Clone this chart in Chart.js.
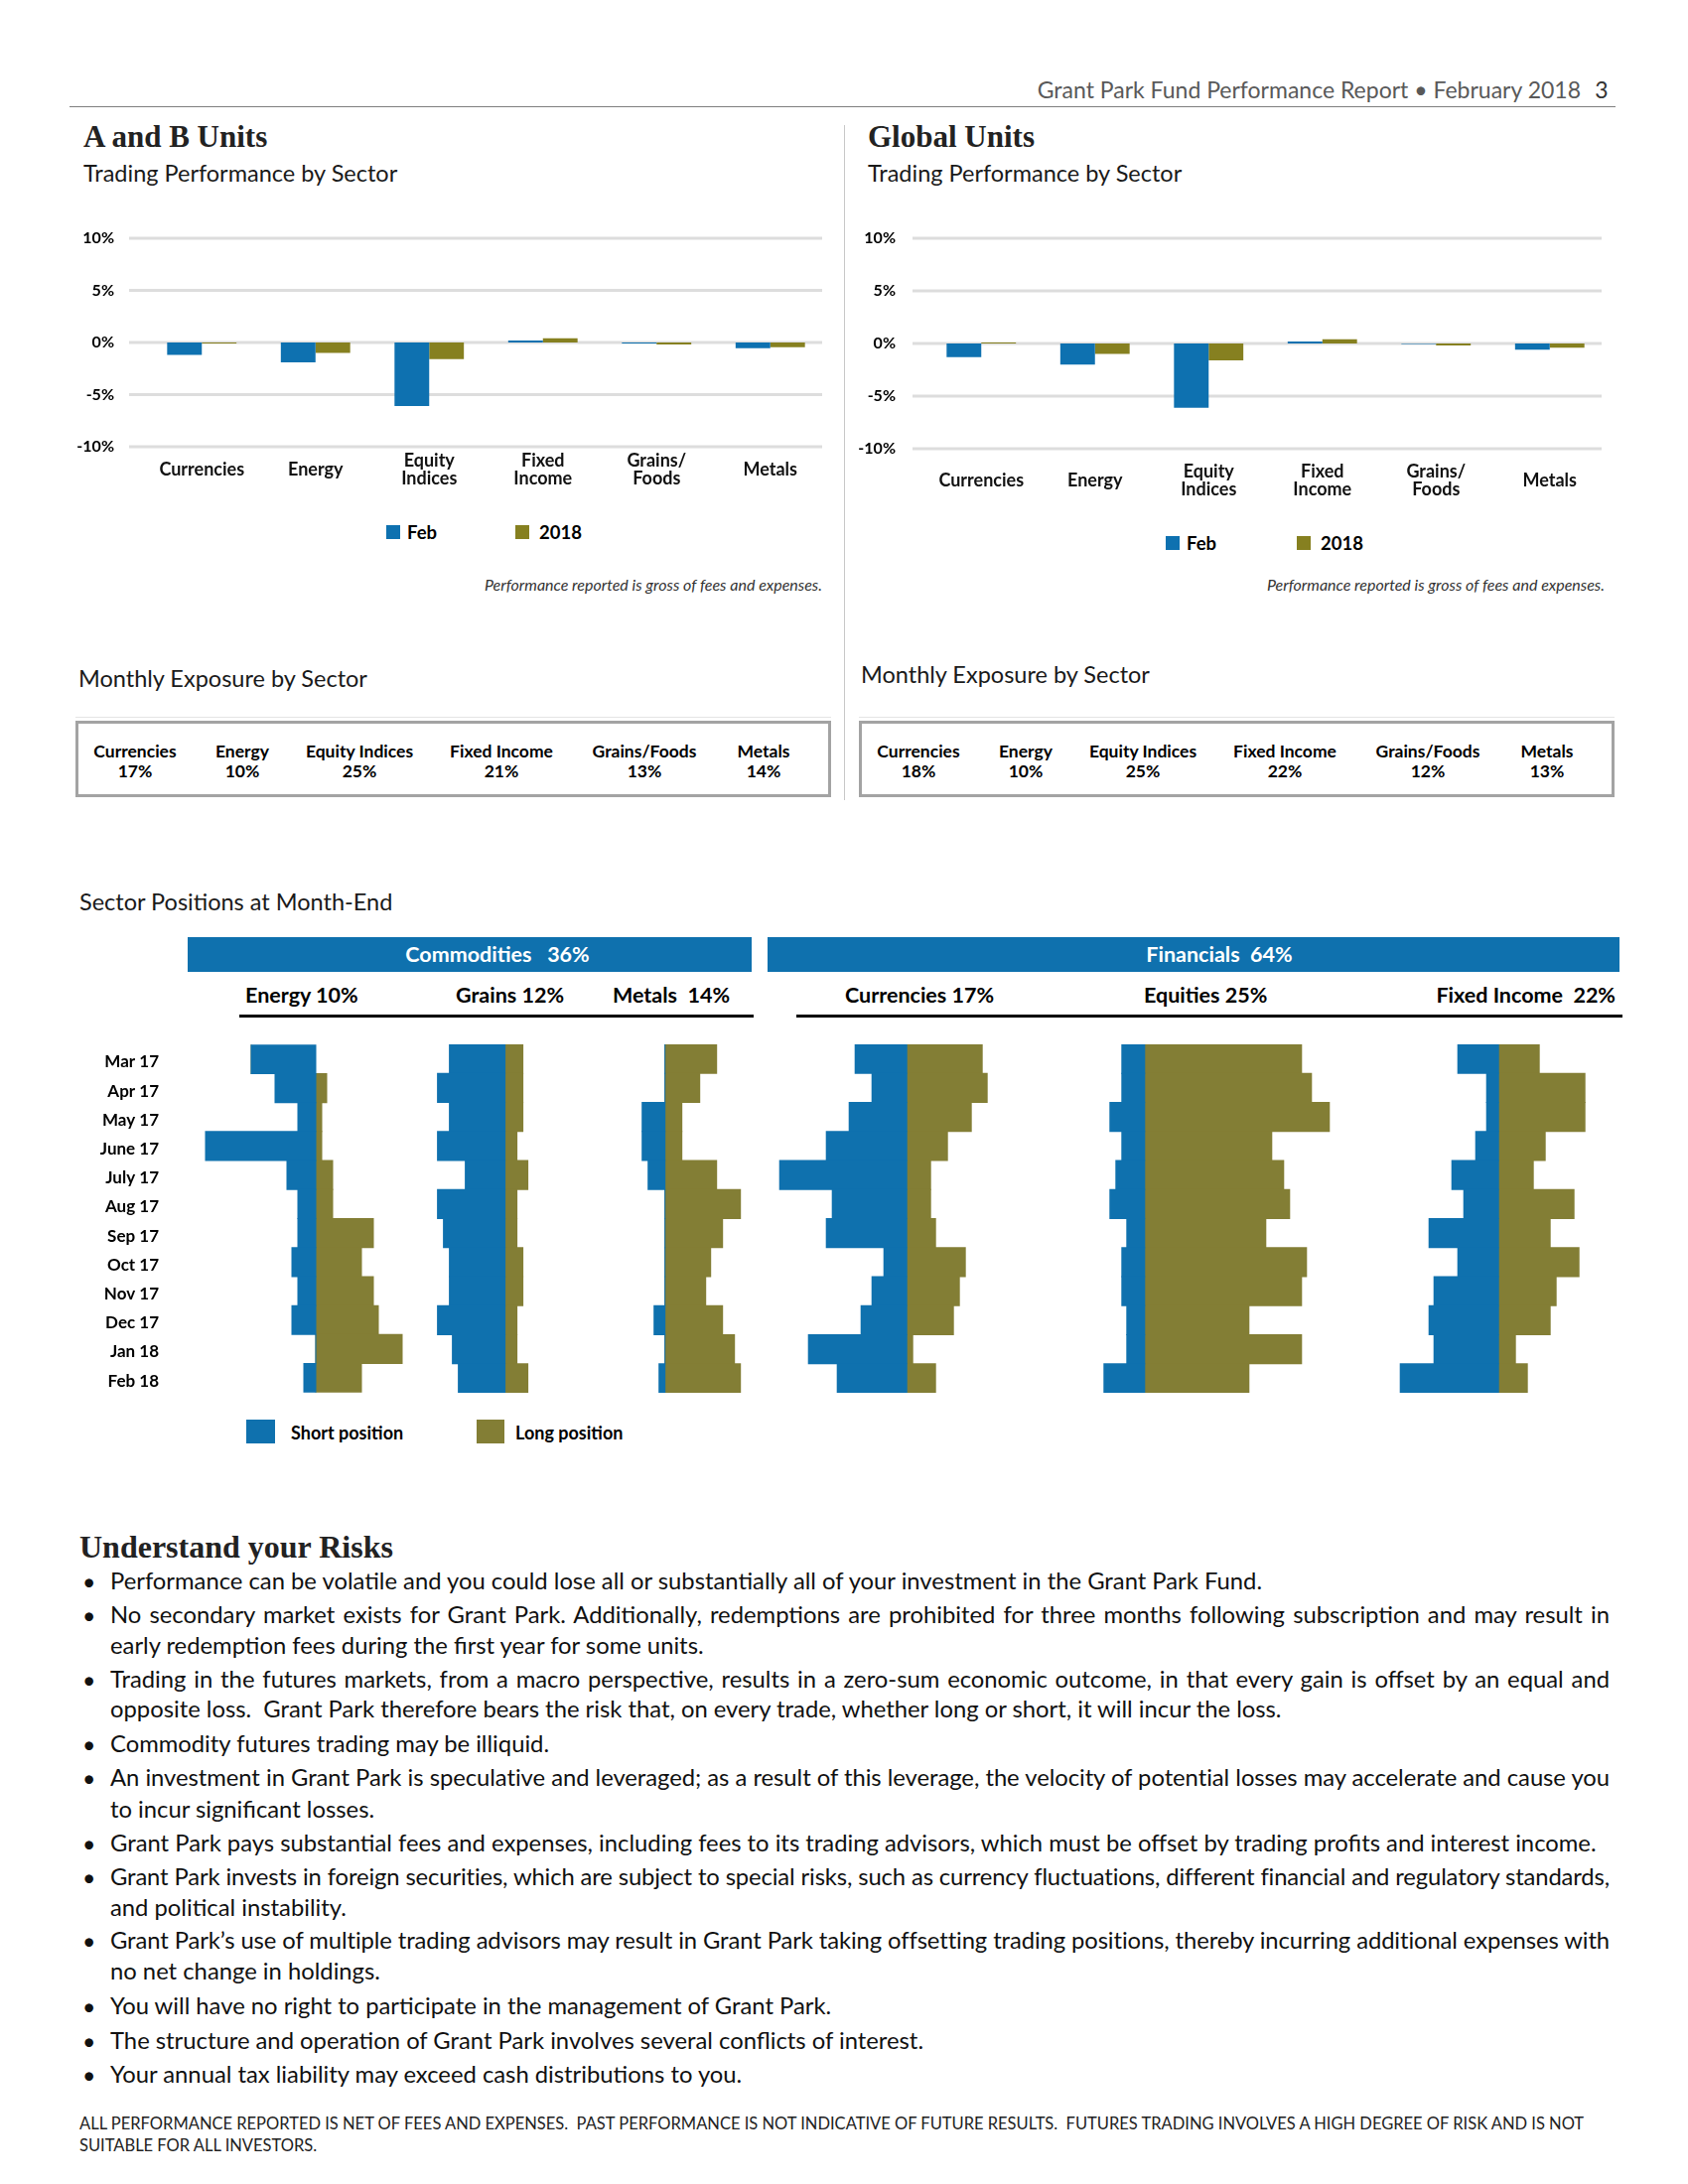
<!DOCTYPE html>
<html>
<head>
<meta charset="utf-8">
<script src="https://cdn.jsdelivr.net/npm/chart.js@4.4.1/dist/chart.umd.min.js"></script>
<style>
  body { margin: 0; width: 1700px; height: 2200px; position: relative; background: #fff; font-family: Lato, sans-serif; color: #000; overflow: hidden; }
  .t { position: absolute; white-space: nowrap; line-height: 1; }
  canvas { position: absolute; }
  .box { position: absolute; border: 3px solid #a3a3a3; box-sizing: border-box; }
  .sq { position: absolute; }
</style>
</head>
<body>

<canvas id="abChart" width="770" height="310" style="left:70px; top:195px;"></canvas>
<canvas id="glChart" width="765" height="312" style="left:860px; top:195px;"></canvas>

<canvas id="pEnergy"></canvas>
<canvas id="pGrains"></canvas>
<canvas id="pMetals"></canvas>
<canvas id="pCurr"></canvas>
<canvas id="pEq"></canvas>
<canvas id="pFixed"></canvas>

<script>
// trading performance by sector (%)
const sectors = ['Currencies', 'Energy', ['Equity', 'Indices'], ['Fixed', 'Income'], ['Grains/', 'Foods'], 'Metals'];
const abFeb = [-1.2, -1.9, -6.1, 0.2, -0.1, -0.55];
const ab2018 = [-0.1, -1.0, -1.6, 0.4, -0.2, -0.45];
const globalFeb = [-1.3, -2.0, -6.1, 0.2, -0.05, -0.6];
const global2018 = [0.1, -1.0, -1.6, 0.4, -0.2, -0.4];
const yTicks = [-10, -5, 0, 5, 10];

// monthly exposure by sector (%)
const expLabels = ['Currencies', 'Energy', 'Equity Indices', 'Fixed Income', 'Grains/Foods', 'Metals'];
const abExposure = [17, 10, 25, 21, 13, 14];
const globalExposure = [18, 10, 25, 22, 12, 13];

// sector positions at month-end (relative size, short / long)
const months = ['Mar 17', 'Apr 17', 'May 17', 'June 17', 'July 17', 'Aug 17', 'Sep 17', 'Oct 17', 'Nov 17', 'Dec 17', 'Jan 18', 'Feb 18'];
const energyShort = [65, 41, 18, 111, 29, 18, 18, 24, 18, 24, 0, 12];
const energyLong = [0, 11, 6, 6, 17, 17, 58, 46, 58, 63, 87, 46];
const grainsShort = [56, 68, 56, 68, 40, 68, 62, 56, 56, 68, 53, 47];
const grainsLong = [18, 18, 18, 12, 23, 12, 12, 18, 18, 12, 12, 23];
const metalsShort = [0, 0, 23, 23, 17, 0, 0, 0, 0, 11, 0, 6];
const metalsLong = [52, 35, 17, 17, 52, 76, 58, 46, 41, 58, 70, 76];
const currShort = [52, 35, 58, 81, 128, 75, 81, 23, 35, 46, 99, 70];
const currLong = [76, 81, 65, 41, 24, 24, 29, 59, 53, 47, 6, 29];
const eqShort = [23, 23, 35, 23, 29, 35, 18, 23, 23, 18, 18, 41];
const eqLong = [158, 168, 186, 128, 140, 146, 122, 163, 158, 105, 158, 105];
const fixedShort = [41, 12, 12, 23, 47, 35, 70, 41, 65, 70, 65, 99];
const fixedLong = [41, 87, 87, 47, 35, 76, 52, 81, 58, 52, 17, 29];

const BLUE = '#0E71B0';
const OLIVE = '#868020';
const BLUE2 = '#0F71AE';
const OLIVE2 = '#837E35';

Chart.defaults.font.family = 'Lato, sans-serif';
Chart.defaults.color = '#000';
Chart.defaults.animation = false;

// little helper for positioned text
function put(text, x, y, style, align) {
  const d = document.createElement('div');
  d.className = 't';
  d.textContent = text;
  d.style.cssText += style || '';
  d.style.left = x + 'px';
  d.style.top = y + 'px';
  const tx = align === 'center' ? '-50%' : align === 'right' ? '-100%' : '0';
  d.style.transform = 'translate(' + tx + ', -50%)';
  document.body.appendChild(d);
  return d;
}
function rect(x, y, w, h, color) {
  const d = document.createElement('div');
  d.className = 'sq';
  d.style.cssText = 'position:absolute;left:' + x + 'px;top:' + y + 'px;width:' + w + 'px;height:' + h + 'px;background:' + color + ';';
  document.body.appendChild(d);
  return d;
}
// squeeze a line to fit, then spread it to the full width if asked
function fitLine(d, width, justify) {
  const n = d.textContent.length;
  const w = d.scrollWidth;
  if (w > width) d.style.letterSpacing = (-(w - width + 2) / n) + 'px';
  if (justify) {
    d.style.whiteSpace = 'normal';
    d.style.width = width + 'px';
    d.style.textAlign = 'justify';
    d.style.textAlignLast = 'justify';
  }
}

// page header
put('Grant Park Fund Performance Report \u2022 February 2018', 1592, 90, 'font-size:23px;color:#595959;', 'right');
put('3', 1613, 90, 'font-size:23px;color:#333;', 'center');
rect(70, 107, 1557, 1, '#7f7f7f');
rect(850, 126, 1, 680, '#c8c8c8');

// titles
const serif = 'font-family:"Liberation Serif",serif;font-weight:bold;';
put('A and B Units', 84, 137, serif + 'font-size:31px;color:#222;');
put('Global Units', 874, 137, serif + 'font-size:31px;color:#222;');
put('Trading Performance by Sector', 84, 175, 'font-size:23.5px;color:#1a1a1a;');
put('Trading Performance by Sector', 874, 175, 'font-size:23.5px;color:#1a1a1a;');

// gridlines drawn across a wider span than the category area
const extGrid = {
  id: 'extGrid',
  beforeDatasetsDraw(chart, args, opts) {
    const { ctx } = chart;
    const y = chart.scales.y;
    ctx.save();
    ctx.strokeStyle = '#dddddd';
    ctx.lineWidth = 3;
    y.ticks.forEach(t => {
      const py = y.getPixelForValue(t.value);
      ctx.beginPath();
      ctx.moveTo(opts.from, py);
      ctx.lineTo(opts.to, py);
      ctx.stroke();
    });
    ctx.restore();
  }
};

function perfChart(id, feb, ytd, xPad, axisW, yPad, gridFrom, gridTo) {
  new Chart(document.getElementById(id), {
    type: 'bar',
    plugins: [extGrid],
    data: {
      labels: sectors,
      datasets: [
        { label: 'Feb', data: feb, backgroundColor: BLUE, categoryPercentage: 0.61, barPercentage: 1 },
        { label: '2018', data: ytd, backgroundColor: OLIVE, categoryPercentage: 0.61, barPercentage: 1 }
      ]
    },
    options: {
      responsive: false,
      animation: false,
      devicePixelRatio: 1,
      layout: { padding: { top: 45, right: 7, bottom: 0, left: 0 } },
      plugins: { legend: { display: false }, tooltip: { enabled: false }, extGrid: { from: gridFrom, to: gridTo } },
      scales: {
        x: {
          grid: { display: false },
          border: { display: false },
          ticks: { font: { size: 18, weight: 'bold', lineHeight: 1.0 }, color: '#111', padding: xPad, crossAlign: 'center', maxRotation: 0, autoSkip: false },
          afterFit: s => { s.height = 55; }
        },
        y: {
          min: yTicks[0], max: yTicks[yTicks.length - 1],
          afterBuildTicks: s => { s.ticks = yTicks.map(v => ({ value: v })); },
          ticks: { callback: v => v + '%', font: { size: 16, weight: 'bold' }, color: '#000', padding: yPad },
          grid: { display: false, drawTicks: false },
          border: { display: false },
          afterFit: s => { s.width = axisW; }
        }
      }
    }
  });
}
perfChart('abChart', abFeb, ab2018, 6, 76, 31, 60, 758);
perfChart('glChart', globalFeb, global2018, 15, 71, 29, 59, 753);

// legends for the performance charts
function perfLegend(x1, x2, y) {
  rect(x1, y - 7, 14, 14, BLUE);
  put('Feb', x1 + 21, y, 'font-size:18.5px;font-weight:bold;', 'left');
  rect(x2, y - 7, 14, 14, OLIVE);
  put('2018', x2 + 24, y, 'font-size:18.5px;font-weight:bold;', 'left');
}
perfLegend(389, 519, 536);
perfLegend(1174, 1306, 547);

const note = 'Performance reported is gross of fees and expenses.';
put(note, 828, 589, 'font-size:16px;font-style:italic;color:#333;', 'right');
put(note, 1616, 589, 'font-size:16px;font-style:italic;color:#333;', 'right');

// monthly exposure boxes
put('Monthly Exposure by Sector', 79, 684, 'font-size:23.5px;color:#1a1a1a;');
put('Monthly Exposure by Sector', 867, 680, 'font-size:23.5px;color:#1a1a1a;');
const expX = [136, 244, 362, 505, 649, 769];
function expBox(left, vals) {
  const b = document.createElement('div');
  b.className = 'box';
  b.style.left = left + 'px'; b.style.top = '726px'; b.style.width = '761px'; b.style.height = '77px';
  document.body.appendChild(b);
  rect(left, 722, 761, 1, '#e4e4e4');
  const off = left - 76;
  expLabels.forEach((lab, i) => {
    put(lab, expX[i] + off, 757, 'font-size:17.5px;font-weight:bold;', 'center');
    put(vals[i] + '%', expX[i] + off, 777, 'font-size:17.5px;font-weight:bold;', 'center');
  });
}
expBox(76, abExposure);
expBox(865, globalExposure);

// sector positions
put('Sector Positions at Month-End', 80, 909, 'font-size:23.5px;color:#1a1a1a;');
rect(189, 944, 568, 35, BLUE2);
rect(773, 944, 858, 35, BLUE2);
put('Commodities   36%', 501, 962, 'font-size:21.5px;font-weight:bold;color:#fff;white-space:pre;', 'center');
put('Financials  64%', 1228, 962, 'font-size:21.5px;font-weight:bold;color:#fff;white-space:pre;', 'center');
const sub = 'font-size:21.5px;font-weight:bold;white-space:pre;';
put('Energy 10%', 247, 1003, sub);
put('Grains 12%', 459, 1003, sub);
put('Metals  14%', 617, 1003, sub);
put('Currencies 17%', 851, 1003, sub);
put('Equities 25%', 1152, 1003, sub);
put('Fixed Income  22%', 1627, 1003, sub, 'right');
rect(241, 1022, 518, 3, '#000');
rect(802, 1022, 832, 3, '#000');

const ROW_TOP = 1052, ROW_H = 351, PAD = 20;
const panels = [
  { id: 'pEnergy', left: 60, width: 370, zero: 318, axisW: 110, s: energyShort, l: energyLong },
  { id: 'pGrains', left: 430, width: 165, zero: 508.6, axisW: 0, s: grainsShort, l: grainsLong },
  { id: 'pMetals', left: 595, width: 175, zero: 669.7, axisW: 0, s: metalsShort, l: metalsLong },
  { id: 'pCurr', left: 770, width: 280, zero: 913.2, axisW: 0, s: currShort, l: currLong },
  { id: 'pEq', left: 1050, width: 330, zero: 1152.8, axisW: 0, s: eqShort, l: eqLong },
  { id: 'pFixed', left: 1380, width: 280, zero: 1509.2, axisW: 0, s: fixedShort, l: fixedLong }
];
panels.forEach(p => {
  const c = document.getElementById(p.id);
  c.width = p.width;
  c.height = ROW_H + 2 * PAD;
  c.style.left = p.left + 'px';
  c.style.top = (ROW_TOP - PAD) + 'px';
  const showMonths = p.axisW > 0;
  new Chart(c, {
    type: 'bar',
    data: {
      labels: months,
      datasets: [
        { label: 'Short position', data: p.s.map(v => -v), backgroundColor: BLUE2, barPercentage: 1, categoryPercentage: 1, inflateAmount: 0.5 },
        { label: 'Long position', data: p.l, backgroundColor: OLIVE2, barPercentage: 1, categoryPercentage: 1, inflateAmount: 0.5 }
      ]
    },
    options: {
      indexAxis: 'y',
      responsive: false,
      animation: false,
      devicePixelRatio: 1,
      layout: { padding: { top: PAD, bottom: PAD, left: 0, right: 0 } },
      plugins: { legend: { display: false }, tooltip: { enabled: false } },
      scales: {
        x: { display: false, stacked: true, min: p.left + p.axisW - p.zero, max: p.left + p.width - p.zero },
        y: {
          display: showMonths, stacked: true,
          grid: { display: false, drawTicks: false }, border: { display: false },
          ticks: { font: { size: 17, weight: 'bold' }, color: '#000', padding: 10, labelOffset: 3 },
          afterFit: s => { s.width = p.axisW; }
        }
      }
    }
  });
});

rect(248, 1430, 29, 24, BLUE2);
put('Short position', 293, 1443, 'font-size:18px;font-weight:bold;');
rect(480, 1430, 28, 24, OLIVE2);
put('Long position', 519, 1443, 'font-size:18px;font-weight:bold;');

// risks
put('Understand your Risks', 80, 1558, serif + 'font-size:32px;color:#222;');
const riskLines = [
  [1593, true, false, 'Performance can be volatile and you could lose all or substantially all of your investment in the Grant Park Fund.'],
  [1627, true, true, 'No secondary market exists for Grant Park.  Additionally, redemptions are prohibited for three months following subscription and may result in'],
  [1658, false, false, 'early redemption fees during the first year for some units.'],
  [1692, true, true, 'Trading in the futures markets, from a macro perspective, results in a zero-sum economic outcome, in that every gain is offset by an equal and'],
  [1722, false, false, 'opposite loss.  Grant Park therefore bears the risk that, on every trade, whether long or short, it will incur the loss.'],
  [1757, true, false, 'Commodity futures trading may be illiquid.'],
  [1791, true, true, 'An investment in Grant Park is speculative and leveraged; as a result of this leverage, the velocity of potential losses may accelerate and cause you'],
  [1823, false, false, 'to incur significant losses.'],
  [1857, true, false, 'Grant Park pays substantial fees and expenses, including fees to its trading advisors, which must be offset by trading profits and interest income.'],
  [1891, true, true, 'Grant Park invests in foreign securities, which are subject to special risks, such as currency fluctuations, different financial and regulatory standards,'],
  [1922, false, false, 'and political instability.'],
  [1955, true, true, 'Grant Park\u2019s use of multiple trading advisors may result in Grant Park taking offsetting trading positions, thereby incurring additional expenses with'],
  [1986, false, false, 'no net change in holdings.'],
  [2021, true, false, 'You will have no right to participate in the management of Grant Park.'],
  [2056, true, false, 'The structure and operation of Grant Park involves several conflicts of interest.'],
  [2090, true, false, 'Your annual tax liability may exceed cash distributions to you.']
];
riskLines.forEach(([y, bullet, just, text]) => {
  if (bullet) put('\u2022', 83, y, 'font-size:23px;color:#111;');
  const d = put(text, 111, y, 'font-size:23.8px;color:#111;white-space:pre;');
  fitLine(d, 1510, just);
});

const disc = 'font-size:16.5px;color:#222;white-space:pre;';
const dl = put('ALL PERFORMANCE REPORTED IS NET OF FEES AND EXPENSES.  PAST PERFORMANCE IS NOT INDICATIVE OF FUTURE RESULTS.  FUTURES TRADING INVOLVES A HIGH DEGREE OF RISK AND IS NOT', 80, 2139, disc);
fitLine(dl, 1519, false);
put('SUITABLE FOR ALL INVESTORS.', 80, 2161, disc);
</script>
</body>
</html>
